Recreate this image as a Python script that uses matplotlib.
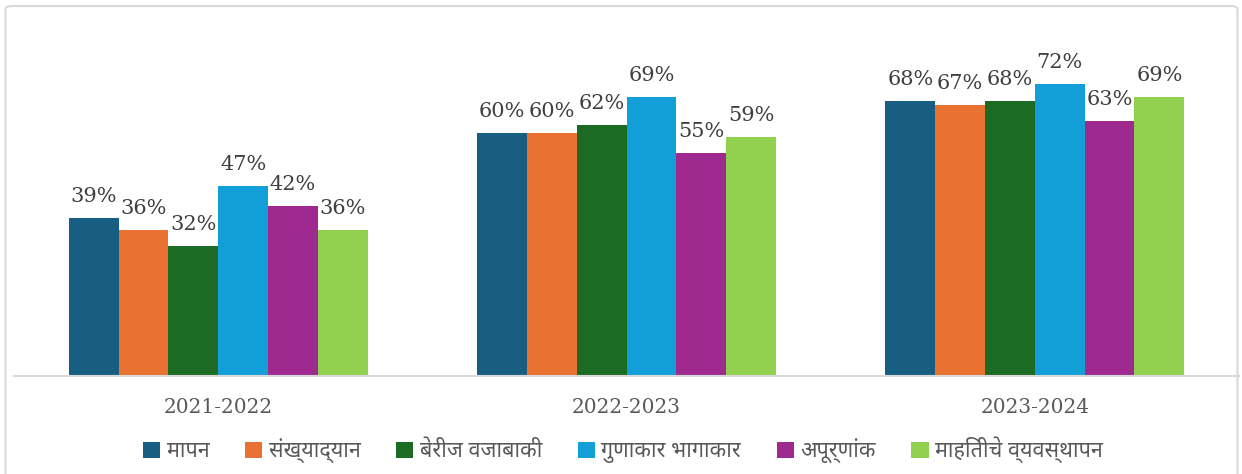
import numpy as np
import matplotlib
matplotlib.use("Agg")
import matplotlib.pyplot as plt
from matplotlib.patches import FancyBboxPatch

years = ["2021-2022", "2022-2023", "2023-2024"]
subjects = ["मापन", "संख्याद्यान", "बेरीज वजाबाकी", "गुणाकार भागाकार", "अपूर्णांक", "माहितीचे व्यवस्थापन"]
mapan = [39, 60, 68]
sankhya = [36, 60, 67]
beriz = [32, 62, 68]
gunakar = [47, 69, 72]
apurnank = [42, 55, 63]
mahiti = [36, 59, 69]
colors = ["#175e82", "#e97132", "#1b6b24", "#129fd7", "#9e2a8f", "#92d050"]

series = [mapan, sankhya, beriz, gunakar, apurnank, mahiti]

fig = plt.figure(figsize=(12.42, 4.74), dpi=100)
ax = fig.add_axes([14 / 1242, 98 / 474, 1225 / 1242, 324 / 474])

x = np.arange(len(years))
w = 0.122
for i, (vals, c) in enumerate(zip(series, colors)):
    pos = x + (i - 2.5) * w
    ax.bar(pos, vals, width=w, color=c, label=subjects[i], zorder=2)
    for p, v in zip(pos, vals):
        ax.annotate(f"{v}%", (p, v), xytext=(0, 11.5), textcoords="offset points",
                    ha="center", va="baseline", fontsize=15, color="#404040",
                    family="DejaVu Serif")

ax.set_xlim(-0.5, 2.5)
ax.set_ylim(0, 80)
ax.set_yticks([])
ax.set_xticks(x)
ax.set_xticklabels(years, fontsize=14.5, color="#595959", family="DejaVu Serif")
ax.tick_params(axis="x", length=0, pad=16)
for s in ["top", "right", "left"]:
    ax.spines[s].set_visible(False)
ax.spines["bottom"].set_color("#d9d9d9")
ax.spines["bottom"].set_linewidth(1.5)

leg = fig.legend(loc="center", bbox_to_anchor=(623 / 1242, 1 - 450 / 474), ncol=6,
                 frameon=False, handlelength=0.8, handleheight=0.8,
                 handletextpad=0.3, columnspacing=1.65,
                 prop={"family": ["Noto Sans Devanagari", "DejaVu Sans"], "size": 15.5})
for t in leg.get_texts():
    t.set_color("#595959")

# light rounded frame around the whole chart
border = FancyBboxPatch((5.5 / 1242, -0.05), 1232 / 1242, (474 - 6) / 474 + 0.05,
                        boxstyle="round,pad=0,rounding_size=0.006",
                        transform=fig.transFigure, fill=False,
                        edgecolor="#d9d9d9", linewidth=1.5)
fig.patches.append(border)

fig.savefig("out.png", dpi=100)
